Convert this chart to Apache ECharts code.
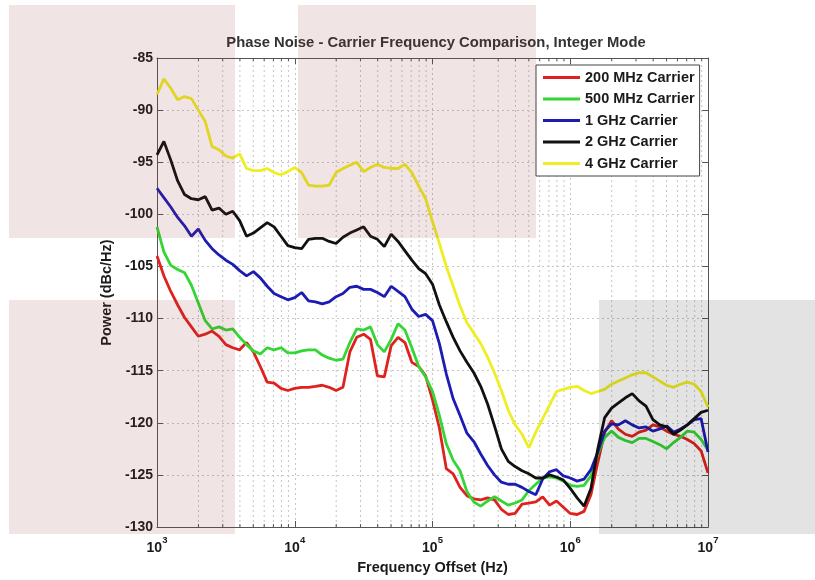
<!DOCTYPE html>
<html>
<head>
<meta charset="utf-8">
<script src="https://cdn.jsdelivr.net/npm/echarts@6/dist/echarts.min.js"></script>
<style>html,body{margin:0;padding:0;background:#fff}#c{width:815px;height:580px}</style>
</head>
<body>
<div id="c"></div>
<script>
// Frequency offsets (Hz), sampled every 0.05 decade
const freqs = [
  1000,1122,1259,1413,1585,1778,1995,2239,2512,2818,3162,3548,3981,4467,5012,5623,6310,7079,7943,8913,
  10000,11220,12590,14130,15850,17780,19950,22390,25120,28180,31620,35480,39810,44670,50120,56230,63100,70790,79430,89130,
  100000,112200,125900,141300,158500,177800,199500,223900,251200,281800,316200,354800,398100,446700,501200,562300,631000,707900,794300,891300,
  1000000,1122000,1259000,1413000,1585000,1778000,1995000,2239000,2512000,2818000,3162000,3548000,3981000,4467000,5012000,5623000,6310000,7079000,7943000,8913000,
  10000000
];
const minorTicks = [
  2000,3000,4000,5000,6000,7000,8000,9000,
  20000,30000,40000,50000,60000,70000,80000,90000,
  200000,300000,400000,500000,600000,700000,800000,900000,
  2000000,3000000,4000000,5000000,6000000,7000000,8000000,9000000
];
const seriesNames = ['200 MHz Carrier','500 MHz Carrier','1 GHz Carrier','2 GHz Carrier','4 GHz Carrier'];
const seriesColors = ['#e0221e','#33d633','#1c1cb4','#111111','#eeee22'];

const carrier200M = [
  -104.0,-105.9,-107.4,-108.7,-109.9,-110.8,-111.7,-111.5,-111.2,-111.7,-112.5,-112.8,-113.0,-112.3,-113.2,-114.6,-116.1,-116.2,-116.7,-116.9,
  -116.7,-116.6,-116.6,-116.5,-116.4,-116.6,-116.9,-116.6,-113.2,-111.8,-111.5,-112.0,-115.5,-115.6,-112.6,-111.8,-112.3,-114.2,-114.6,-115.5,
  -117.8,-120.5,-124.4,-124.9,-126.2,-127.0,-127.3,-127.4,-127.2,-127.4,-128.3,-128.8,-128.7,-127.8,-127.7,-127.6,-127.1,-127.9,-127.5,-128.1,
  -128.7,-128.8,-128.5,-126.9,-123.8,-120.9,-119.8,-120.6,-121.1,-121.3,-120.9,-120.7,-120.2,-120.4,-120.8,-121.1,-121.3,-121.6,-122.0,-122.7,
  -124.8
];
const carrier500M = [
  -101.2,-103.6,-104.9,-105.3,-105.6,-106.8,-108.5,-110.2,-111.0,-110.8,-111.1,-111.0,-111.8,-112.5,-113.1,-113.4,-112.8,-113.0,-112.8,-113.3,
  -113.3,-113.1,-113.0,-113.0,-113.5,-113.8,-114.0,-113.9,-112.3,-111.0,-111.1,-110.8,-112.5,-113.2,-112.0,-110.5,-111.1,-112.8,-114.6,-115.6,
  -117.0,-119.3,-122.0,-123.6,-124.6,-126.6,-127.6,-128.0,-127.5,-127.1,-127.5,-127.9,-127.7,-127.4,-126.5,-125.9,-125.3,-125.2,-125.3,-125.6,
  -126.0,-126.1,-126.0,-125.1,-123.0,-121.4,-120.8,-121.4,-121.7,-121.9,-121.5,-121.5,-121.8,-122.1,-122.5,-121.9,-121.4,-120.8,-120.9,-121.6,
  -122.6
];
const carrier1G = [
  -97.5,-98.4,-99.3,-100.3,-101.1,-102.1,-101.4,-102.5,-103.3,-103.9,-104.4,-104.8,-105.4,-105.9,-105.5,-106.1,-106.9,-107.6,-107.9,-108.2,
  -108.0,-107.5,-108.3,-108.4,-108.6,-108.4,-107.9,-107.6,-107.0,-106.9,-107.2,-107.2,-107.5,-107.9,-106.9,-107.4,-107.9,-109.1,-109.8,-109.6,
  -110.2,-112.4,-115.3,-117.7,-119.3,-121.0,-121.8,-123.0,-124.1,-125.0,-125.7,-125.9,-125.9,-126.2,-126.6,-126.9,-125.4,-124.7,-124.5,-125.1,
  -125.3,-125.6,-125.4,-124.5,-122.8,-120.8,-120.1,-120.2,-119.8,-120.2,-120.5,-120.4,-120.8,-120.6,-120.3,-120.9,-120.6,-120.2,-119.7,-119.6,
  -122.8
];
const carrier2G = [
  -94.3,-93.0,-94.8,-96.8,-98.1,-98.5,-98.6,-98.3,-99.6,-99.4,-100.0,-99.7,-100.6,-102.1,-101.8,-101.3,-100.8,-101.2,-102.1,-103.0,
  -103.2,-103.3,-102.4,-102.3,-102.3,-102.6,-102.8,-102.2,-101.8,-101.5,-101.2,-102.1,-102.4,-103.1,-101.9,-102.6,-103.5,-104.4,-105.2,-105.7,
  -106.7,-108.7,-110.3,-111.8,-113.1,-114.2,-115.2,-116.5,-118.2,-120.3,-122.5,-123.7,-124.2,-124.6,-124.9,-125.3,-125.3,-125.0,-125.2,-125.5,
  -126.3,-127.2,-128.0,-126.3,-122.5,-119.5,-118.6,-118.1,-117.6,-117.2,-117.9,-118.4,-119.7,-120.2,-120.4,-121.1,-120.7,-120.2,-119.6,-119.0,
  -118.8
];
const carrier4G = [
  -88.5,-87.0,-87.9,-89.0,-88.7,-88.9,-90.0,-91.1,-93.5,-93.8,-94.4,-94.6,-94.2,-95.6,-95.8,-95.8,-95.6,-96.0,-96.2,-95.9,
  -95.5,-96.0,-97.2,-97.3,-97.3,-97.2,-96.0,-95.6,-95.3,-95.0,-95.9,-95.5,-95.2,-95.5,-95.6,-95.6,-95.2,-96.0,-97.3,-98.5,
  -100.7,-102.8,-105.0,-106.9,-108.8,-110.4,-111.4,-112.4,-113.7,-115.2,-116.9,-118.8,-120.2,-121.1,-122.4,-120.9,-119.6,-118.3,-117.0,-116.8,
  -116.6,-116.5,-116.9,-117.2,-117.0,-116.8,-116.3,-116.0,-115.7,-115.4,-115.2,-115.2,-115.6,-116.0,-116.4,-116.6,-116.3,-116.1,-116.3,-117.0,
  -118.5
];
const seriesValues = [carrier200M, carrier500M, carrier1G, carrier2G, carrier4G];

const X_MIN = 1000, X_MAX = 10000000, Y_MIN = -130, Y_MAX = -85, Y_STEP = 5;

const FONT = '"Liberation Sans", Arial, sans-serif';
const chart = echarts.init(document.getElementById('c'), null, {renderer: 'canvas'});

const lineSeries = seriesNames.map((name, i) => ({
  name: name,
  type: 'line',
  data: freqs.map((f, k) => [f, seriesValues[i][k]]),
  showSymbol: false,
  symbol: 'none',
  smooth: false,
  lineStyle: {color: seriesColors[i], width: 2.8},
  itemStyle: {color: seriesColors[i]},
  z: 3
}));

const minorSeries = {
  name: 'minorGrid',
  type: 'custom',
  silent: true,
  z: 1,
  data: minorTicks.map(f => [f, Y_MIN]),
  renderItem: function (params, api) {
    const f = api.value(0);
    const b = api.coord([f, Y_MIN]);
    const t = api.coord([f, Y_MAX]);
    return {
      type: 'group',
      children: [
        {type: 'line', shape: {x1: b[0], y1: b[1], x2: t[0], y2: t[1]},
         style: {stroke: '#c6c6c6', lineWidth: 1, lineDash: [2, 3]}},
        {type: 'line', shape: {x1: b[0], y1: b[1], x2: b[0], y2: b[1] - 3},
         style: {stroke: '#555', lineWidth: 1}},
        {type: 'line', shape: {x1: t[0], y1: t[1], x2: t[0], y2: t[1] + 3},
         style: {stroke: '#555', lineWidth: 1}}
      ]
    };
  }
};

const axisLineStyle = {color: '#555', width: 1};
const gridLineStyle = {type: [2, 3], color: '#c6c6c6', width: 1};

chart.setOption({
  animation: false,
  backgroundColor: '#fff',
  title: {
    text: 'Phase Noise - Carrier Frequency Comparison, Integer Mode',
    left: 431, textAlign: 'center', top: 30,
    textStyle: {fontFamily: FONT, fontSize: 14.8, fontWeight: 'bold', color: '#333'}
  },
  grid: {left: 157, right: 107, top: 58, bottom: 51},
  legend: {
    data: seriesNames,
    orient: 'vertical',
    left: 536, top: 65,
    padding: [5, 5, 5, 7],
    icon: 'rect',
    itemWidth: 37, itemHeight: 3, itemGap: 6.5,
    backgroundColor: '#fff',
    borderColor: '#444', borderWidth: 1, borderRadius: 0,
    textStyle: {fontFamily: FONT, fontSize: 14.5, fontWeight: 'bold', color: '#1a1a1a', lineHeight: 15, padding: [0, 0, 0, 0]},
    selectedMode: false
  },
  xAxis: [
    {
      type: 'log', logBase: 10, min: X_MIN, max: X_MAX, position: 'bottom',
      axisLine: {show: true, lineStyle: axisLineStyle},
      axisTick: {show: true, inside: true, length: 6, lineStyle: axisLineStyle},
      splitLine: {show: true, lineStyle: gridLineStyle},
      axisLabel: {
        margin: 8,
        formatter: v => '{b|10}{s|' + Math.round(Math.log10(v)) + '}',
        rich: {
          b: {fontFamily: FONT, fontSize: 14, fontWeight: 'bold', color: '#1a1a1a', padding: [6, 0, 0, 0]},
          s: {fontFamily: FONT, fontSize: 9.5, fontWeight: 'bold', color: '#1a1a1a', verticalAlign: 'top'}
        }
      },
      name: 'Frequency Offset (Hz)', nameLocation: 'middle', nameGap: 33,
      nameTextStyle: {fontFamily: FONT, fontSize: 14.5, fontWeight: 'bold', color: '#1a1a1a'}
    },
    {
      type: 'log', logBase: 10, min: X_MIN, max: X_MAX, position: 'top',
      axisLine: {show: true, lineStyle: axisLineStyle},
      axisTick: {show: true, inside: true, length: 6, lineStyle: axisLineStyle},
      axisLabel: {show: false}, splitLine: {show: false}
    }
  ],
  yAxis: [
    {
      type: 'value', min: Y_MIN, max: Y_MAX, interval: Y_STEP, position: 'left',
      axisLine: {show: true, lineStyle: axisLineStyle},
      axisTick: {show: true, inside: true, length: 6, lineStyle: axisLineStyle},
      splitLine: {show: true, lineStyle: gridLineStyle},
      axisLabel: {margin: 4, fontFamily: FONT, fontSize: 14, fontWeight: 'bold', color: '#1a1a1a'},
      name: 'Power (dBc/Hz)', nameLocation: 'middle', nameGap: 41, nameRotate: 90,
      nameTextStyle: {fontFamily: FONT, fontSize: 14.5, fontWeight: 'bold', color: '#1a1a1a'}
    },
    {
      type: 'value', min: Y_MIN, max: Y_MAX, interval: Y_STEP, position: 'right',
      axisLine: {show: true, lineStyle: axisLineStyle},
      axisTick: {show: true, inside: true, length: 6, lineStyle: axisLineStyle},
      axisLabel: {show: false}, splitLine: {show: false}
    }
  ],
  series: [minorSeries].concat(lineSeries),
  graphic: [
    {type: 'rect', shape: {x: 9, y: 5, width: 226, height: 233}, style: {fill: 'rgba(140,50,50,0.13)'}, z: 100, silent: true},
    {type: 'rect', shape: {x: 298, y: 5, width: 238, height: 233}, style: {fill: 'rgba(140,50,50,0.13)'}, z: 100, silent: true},
    {type: 'rect', shape: {x: 9, y: 300, width: 226, height: 234}, style: {fill: 'rgba(140,50,50,0.13)'}, z: 100, silent: true},
    {type: 'rect', shape: {x: 599, y: 300, width: 216, height: 234}, style: {fill: 'rgba(0,0,0,0.11)'}, z: 100, silent: true}
  ]
});
</script>
</body>
</html>
